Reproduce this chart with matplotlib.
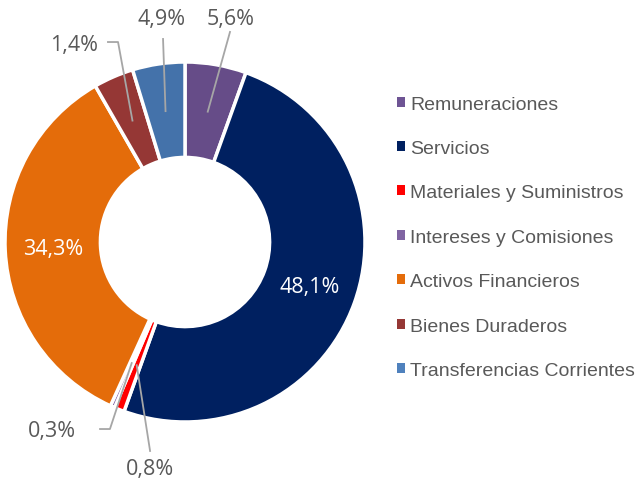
import numpy as np
import matplotlib
matplotlib.use("Agg")
import matplotlib.pyplot as plt
from matplotlib.patches import Patch

# categories in drawing order (clockwise from the top)
categories = ["Remuneraciones", "Servicios", "Materiales y Suministros",
              "Intereses y Comisiones", "Activos Financieros",
              "Bienes Duraderos", "Transferencias Corrientes"]
# slice sizes as drawn in the picture
shares = [5.5, 50.0, 0.9, 0.4, 34.9, 3.6, 4.7]
# data labels as printed on the chart
pct_labels = ["5,6%", "48,1%", "0,8%", "0,3%", "34,3%", "1,4%", "4,9%"]
colors = ["#664C88", "#002060", "#FF0000", "#8064A2", "#E46C0A", "#953735", "#4472AA"]
legend_colors = ["#6E5494", "#002060", "#FF0000", "#8064A2", "#E46C0A", "#953735", "#4F81BD"]

W, H = 637, 485
fig = plt.figure(figsize=(W / 100, H / 100), dpi=100)
# pie centre at (185, 243) px, radius 180 px
ax = fig.add_axes([5 / W, 62 / H, 360 / W, 360 / H])

wedges, _ = ax.pie(shares, colors=colors, startangle=90, counterclock=False,
                   radius=1.0, wedgeprops=dict(width=0.53, edgecolor="white", linewidth=2.5))
ax.set_xlim(-1, 1)
ax.set_ylim(-1, 1)
ax.set_aspect("equal")
ax.axis("off")

pct_font = dict(family=["Open Sans", "DejaVu Sans"], fontsize=15.5)
line_kw = dict(color="#A6A6A6", lw=1.3)

# label placement: None = inside ring, otherwise (text pos, elbow points)
outside = {
    0: ((0.256, 1.244), [(0.25, 1.167)]),
    6: ((-0.128, 1.239), [(-0.122, 1.128)]),
    5: ((-0.617, 1.10), [(-0.372, 1.111), (-0.428, 1.111)]),
    3: ((-0.739, -1.05), [(-0.417, -1.039), (-0.472, -1.039)]),
    2: ((-0.194, -1.261), [(-0.194, -1.161)]),
}

for i, w in enumerate(wedges):
    mid = np.deg2rad((w.theta1 + w.theta2) / 2)
    r = 0.735
    ax_, ay_ = r * np.cos(mid), r * np.sin(mid)
    if i in outside:
        (tx, ty), pts = outside[i]
        xs = [ax_] + [p[0] for p in pts]
        ys = [ay_] + [p[1] for p in pts]
        ax.plot(xs, ys, clip_on=False, **line_kw)
        ax.text(tx, ty, pct_labels[i], ha="center", va="center", color="#595959",
                clip_on=False, **pct_font)
    else:
        ax.text(ax_, ay_, pct_labels[i], ha="center", va="center", color="white", **pct_font)

handles = [Patch(facecolor=c, edgecolor="none") for c in legend_colors]
leg = fig.legend(handles, categories, loc="upper left", bbox_to_anchor=(379 / W, 1 - 79 / H),
                 frameon=False, handlelength=0.42, handleheight=0.42, handletextpad=0.3,
                 labelspacing=1.41,
                 prop=dict(family=["Liberation Sans", "DejaVu Sans"], size=14))
for t in leg.get_texts():
    t.set_color("#595959")

fig.savefig("out.png", dpi=100)
